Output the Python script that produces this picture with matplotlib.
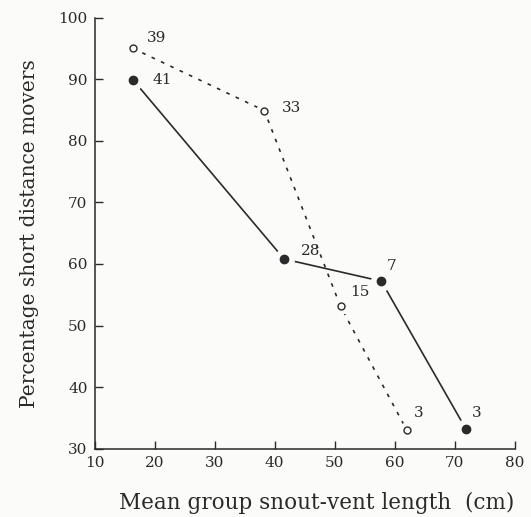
"""Short distance movers against mean snout-vent length of the group."""
import matplotlib
matplotlib.use('Agg')
import matplotlib.pyplot as plt


# %% Daten
# filled dots, solid line
len_solid = [16.4, 41.6, 57.8, 71.9]
pct_solid = [89.9, 60.8, 57.2, 33.2]
n_solid = ['41', '28', '7', '3']

# open circles, dashed line
len_open = [16.4, 38.3, 51.0, 62.0]
pct_open = [95.0, 84.9, 53.1, 33.1]
n_open = ['39', '33', '15', '3']

x_ticks = [10, 20, 30, 40, 50, 60, 70, 80]
y_ticks = [30, 40, 50, 60, 70, 80, 90, 100]

# label offsets in pixels (right, up)
off_solid = [(20, 0), (17, 8), (5, 15), (6, 16)]
off_open = [(14, 10), (18, 3), (10, 14), (7, 17)]

ink = '#2a2a2a'
bg = '#fbfbf9'
plt.rcParams['font.family'] = ['DejaVu Serif']

fig = plt.figure(figsize=(5.31, 5.17), dpi=100, facecolor=bg)
ax = fig.add_axes([0.178, 0.132, 0.791, 0.834])
ax.set_facecolor(bg)

# lines first, white halos leave the small gap at each marker
ax.plot(len_solid, pct_solid, color=ink, linewidth=1.2, zorder=1)
ax.plot(len_open, pct_open, color=ink, linewidth=1.2,
        linestyle=(0, (2.2, 4.0)), zorder=1)
ax.plot(len_solid, pct_solid, 'o', color=bg, markersize=14, zorder=2)
ax.plot(len_open, pct_open, 'o', color=bg, markersize=11, zorder=2)
ax.plot(len_solid, pct_solid, 'o', color=ink, markersize=6, zorder=3)
ax.plot(len_open, pct_open, 'o', markerfacecolor=bg, markeredgecolor=ink,
        markeredgewidth=1.0, markersize=5, zorder=3)

for x, y, t, (dx, dy) in zip(len_solid, pct_solid, n_solid, off_solid):
    ax.annotate(t, (x, y), xytext=(dx * 0.72, dy * 0.72),
                textcoords='offset points', ha='left', va='center',
                fontsize=11, color=ink)
for x, y, t, (dx, dy) in zip(len_open, pct_open, n_open, off_open):
    ax.annotate(t, (x, y), xytext=(dx * 0.72, dy * 0.72),
                textcoords='offset points', ha='left', va='center',
                fontsize=11, color=ink)

ax.set_xlim(10, 80)
ax.set_ylim(30, 100)
ax.set_xticks(x_ticks)
ax.set_yticks(y_ticks)
ax.tick_params(direction='in', length=6, width=1.0, colors=ink,
               labelsize=11, pad=5)
for side in ['top', 'right']:
    ax.spines[side].set_visible(False)
for side in ['left', 'bottom']:
    ax.spines[side].set_color(ink)
    ax.spines[side].set_linewidth(1.1)

ax.set_xlabel('Mean group snout-vent length  (cm)', fontsize=15.5,
              color=ink)
ax.xaxis.set_label_coords(0.53, -0.1)
ax.set_ylabel('Percentage short distance movers', fontsize=14.5,
              color=ink, labelpad=14)

fig.savefig('out.png', dpi=100, facecolor=bg)
